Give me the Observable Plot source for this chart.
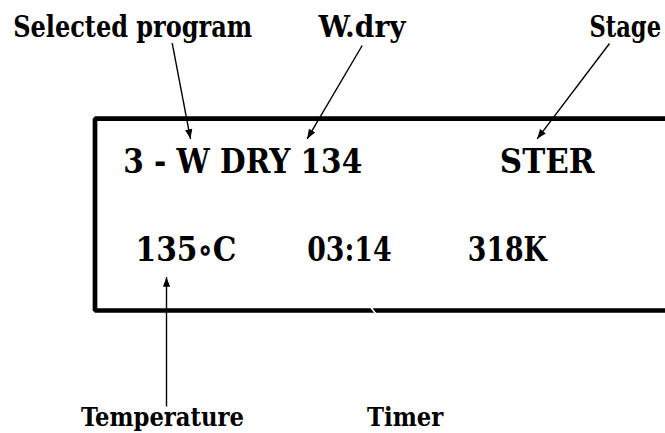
<!DOCTYPE html>
<html>
<head>
<meta charset="utf-8">
<script src="https://cdn.jsdelivr.net/npm/d3@7"></script>
<script src="https://cdn.jsdelivr.net/npm/@observablehq/plot@0.6"></script>
<style>
  html, body { margin: 0; padding: 0; background: #fff; overflow: hidden; }
  #chart svg { display: block; }
</style>
</head>
<body>
<div id="chart"></div>
<script>
// ---- Callout labels (outside the display) ----
const topLabels = ["Selected program", "W.dry", "Stage"];
const bottomLabels = ["Temperature", "Timer"];

// ---- Display contents ----
const row1Text = ["3 - W DRY 134", "STER"];
const row2Text = ["135\u2218C", "03:14", "318K"];

// ---- Layout (left edge and rendered width of each text, px) ----
const topLabelX = [12.7, 318, 589];
const topLabelW = [239, 87, 71.5];
const bottomLabelX = [80.5, 366.5];
const bottomLabelW = [163, 76.3];
const row1X = [122.7, 499.3];
const row1W = [239, 94.7];
const row2X = [135, 306.7, 467.3];
const row2W = [101, 84.3, 79];

// ---- Display frame (open on the right) ----
const frameX = [700, 94.5, 94.5, 700];
const frameY = [118.2, 118.2, 310, 310];

// ---- Arrows (from label to display item) ----
const arrowFromX = [171.7, 361.7, 609, 166];
const arrowFromY = [42.7, 45, 43, 406];
const arrowToX   = [190, 306.7, 536.7, 166];
const arrowToY   = [138.3, 138.3, 138.3, 276.7];

// Timer pointer (drawn white: only visible where it cuts the frame)
const timerFromX = [377], timerFromY = [315.5], timerToX = [368.2], timerToY = [304];

const W = 665, H = 433;
const font = "DejaVu Serif Condensed, DejaVu Serif, serif";

const frame = frameX.map((x, i) => ({x, y: frameY[i]}));
const arrows = arrowFromX.map((x1, i) => ({x1, y1: arrowFromY[i], x2: arrowToX[i], y2: arrowToY[i]}));
const timer = timerFromX.map((x1, i) => ({x1, y1: timerFromY[i], x2: timerToX[i], y2: timerToY[i]}));
const tops = topLabels.map((t, i) => ({t, x: topLabelX[i], w: topLabelW[i]}));
const topsLeft = tops.slice(0, 2);
const topsRight = tops.slice(2).map(d => ({...d, xe: d.x + d.w})); // right-aligned at the figure edge
const bottoms = bottomLabels.map((t, i) => ({t, x: bottomLabelX[i], w: bottomLabelW[i]}));
const r1 = row1Text.map((t, i) => ({t, x: row1X[i], w: row1W[i]}));
const r2 = row2Text.map((t, i) => ({t, x: row2X[i], w: row2W[i]}));
const widthOf = new Map([...tops, ...bottoms, ...r1, ...r2].map(d => [d.t, d.w]));

const arrowhead = {
  draw(ctx) {
    ctx.moveTo(0, 0);
    ctx.lineTo(3.6, 9.5);
    ctx.lineTo(-3.6, 9.5);
    ctx.closePath();
  }
};

// y of the text middle so that the baseline lands at b (middle anchor => +0.32em)
const mid = (b, s) => b - 0.32 * s;
const capTop = 30, capRow = 33.5, capBottom = 26;
const txt = (size) => ({text: "t", fontSize: size, fontWeight: "bold", fontFamily: font, fill: "#000"});

const chart = Plot.plot({
  width: W,
  height: H,
  margin: 0,
  style: {background: "#fff", overflow: "hidden"},
  x: {domain: [0, W], range: [0, W], axis: null},
  y: {domain: [0, H], range: [0, H], axis: null},
  marks: [
    Plot.line(frame, {x: "x", y: "y", stroke: "#000", strokeWidth: 4.7, strokeLinejoin: "miter", strokeLinecap: "butt"}),
    Plot.link(timer, {x1: "x1", y1: "y1", x2: "x2", y2: "y2", stroke: "#fff", strokeWidth: 1.6}),
    Plot.link(arrows, {x1: "x1", y1: "y1", x2: "x2", y2: "y2", stroke: "#000", strokeWidth: 1.4}),
    Plot.dot(arrows, {
      x: "x2", y: "y2", r: 4, symbol: arrowhead, fill: "#000", stroke: "none",
      rotate: d => Math.atan2(d.x2 - d.x1, -(d.y2 - d.y1)) * 180 / Math.PI
    }),
    Plot.text(topsLeft, {x: "x", y: () => mid(36.7, capTop), textAnchor: "start", ...txt(capTop)}),
    Plot.text(topsRight, {x: "xe", y: () => mid(36.7, capTop), textAnchor: "end", ...txt(capTop)}),
    Plot.text(r1, {x: "x", y: () => mid(172.7, capRow), textAnchor: "start", ...txt(capRow)}),
    Plot.text(r2, {x: "x", y: () => mid(260.7, capRow), textAnchor: "start", ...txt(capRow)}),
    Plot.text(bottoms, {x: "x", y: () => mid(425.7, capBottom), textAnchor: "start", ...txt(capBottom)})
  ]
});

// fit each text to the width it has in the reference (Times-like narrow bold)
chart.querySelectorAll("text").forEach(el => {
  const w = widthOf.get(el.textContent);
  if (w) {
    el.setAttribute("textLength", w);
    el.setAttribute("lengthAdjust", "spacingAndGlyphs");
  }
});
document.getElementById("chart").appendChild(chart);
</script>
</body>
</html>
